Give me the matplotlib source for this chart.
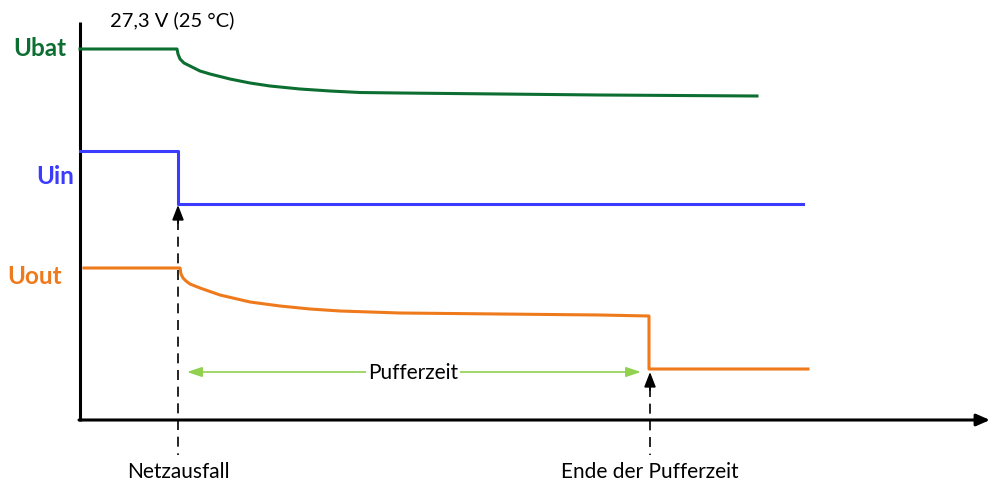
import matplotlib.pyplot as plt

plt.rcParams['font.family'] = ['Lato', 'DejaVu Sans']

# curves (x, y in picture pixels, y downwards)
ubat_x = [80, 177, 178, 180, 184, 190, 200, 210, 230, 250, 270, 300, 330, 360, 400, 500, 600, 757]
ubat_y = [49, 49, 54, 59, 63, 66, 71, 74, 79, 83, 86, 89, 91, 92.5, 93, 94, 95, 96]

uin_x = [80, 178, 178, 803]
uin_y = [151, 151, 204, 204]

uout_x = [84, 180, 181, 183, 186, 190, 200, 220, 250, 280, 310, 340, 370, 400, 500, 600, 649, 649, 808]
uout_y = [268, 268, 274, 278, 281, 284, 288, 295, 302, 306, 309, 311, 312, 313, 314, 315, 316, 369, 369]

events_x = [178, 650]
events_tip = [205, 372]
events_label = ['Netzausfall', 'Ende der Pufferzeit']

green = '#0d6e32'
blue = '#3b3bff'
orange = '#ee7a1c'
light_green = '#92d050'

fig = plt.figure(figsize=(9.9, 4.87), dpi=100)
ax = fig.add_axes([0, 0, 1, 1])
ax.set_xlim(0, 990)
ax.set_ylim(487, 0)
ax.axis('off')

# axes
ax.plot([80, 80], [22, 421], color='black', lw=2.2, solid_capstyle='butt')
ax.annotate('', xy=(990, 420), xytext=(79, 420),
            arrowprops=dict(arrowstyle='-|>,head_length=0.8,head_width=0.35',
                            color='black', lw=2.2, shrinkA=0, shrinkB=0))

ax.plot(ubat_x, ubat_y, color=green, lw=2.2)
ax.plot(uin_x, uin_y, color=blue, lw=2.2)
ax.plot(uout_x, uout_y, color=orange, lw=2.2)

# event markers
for x, tip, lab in zip(events_x, events_tip, events_label):
    ax.plot([x, x], [tip + 15, 455], color='black', lw=1.2, dashes=(6, 4))
    ax.annotate('', xy=(x, tip), xytext=(x, tip + 18),
                arrowprops=dict(arrowstyle='-|>,head_length=0.9,head_width=0.35',
                                color='black', lw=1.2, shrinkA=0, shrinkB=0))
    ax.text(x, 472, lab, ha='center', va='center', fontsize=15)

# buffer time arrow
ax.annotate('', xy=(187, 372), xytext=(641, 372),
            arrowprops=dict(arrowstyle='<|-|>,head_length=0.9,head_width=0.3',
                            color=light_green, lw=1.2, shrinkA=0, shrinkB=0))
ax.text(413, 373, 'Pufferzeit', ha='center', va='center', fontsize=15,
        bbox=dict(facecolor='white', edgecolor='none', pad=1))

ax.text(110, 20, '27,3 V (25 °C)', ha='left', va='center', fontsize=14.5)
ax.text(66, 49, 'Ubat', ha='right', va='center', fontsize=17.5,
        fontweight='bold', color=green)
ax.text(74, 177, 'Uin', ha='right', va='center', fontsize=17.5,
        fontweight='bold', color=blue)
ax.text(62, 277, 'Uout', ha='right', va='center', fontsize=17.5,
        fontweight='bold', color=orange)

fig.savefig('out.png', dpi=100)
